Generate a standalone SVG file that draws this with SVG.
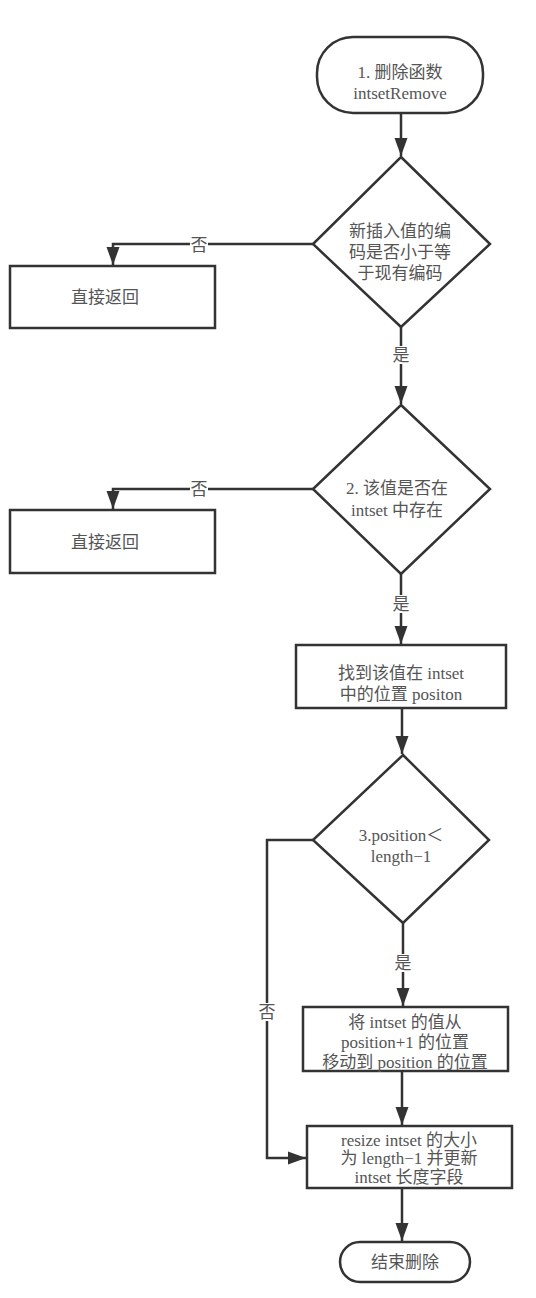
<svg xmlns="http://www.w3.org/2000/svg" width="536" height="1298" viewBox="0 0 536 1298">
<defs>
<style>
.shape{fill:#fff;stroke:#333;stroke-width:2.5}
.conn{fill:none;stroke:#333;stroke-width:2.5}
.t{font-family:"Liberation Serif","Noto Sans CJK SC",serif;font-size:17px;fill:#555;text-anchor:middle}
.lbl{font-family:"Liberation Serif","Noto Sans CJK SC",serif;font-size:17px;fill:#555;text-anchor:middle;dominant-baseline:central}
.bg{fill:#fff}
</style>
<marker id="arr" markerUnits="userSpaceOnUse" markerWidth="20" markerHeight="14" refX="18" refY="7" orient="auto">
<path d="M0,0.5 L18,7 L0,13.5 z" fill="#333"/>
</marker>
</defs>
<rect width="536" height="1298" fill="#fff"/>
<g id="connectors">
<path class="conn" d="M401,113 V156" marker-end="url(#arr)"/>
<path class="conn" d="M313,244 H113 V265" marker-end="url(#arr)"/>
<path class="conn" d="M401,327 V404" marker-end="url(#arr)"/>
<path class="conn" d="M313,489 H113 V509" marker-end="url(#arr)"/>
<path class="conn" d="M401,574 V644" marker-end="url(#arr)"/>
<path class="conn" d="M402,708 V754" marker-end="url(#arr)"/>
<path class="conn" d="M403,923 V1006" marker-end="url(#arr)"/>
<path class="conn" d="M313,840 H267 V1158 H306" marker-end="url(#arr)"/>
<path class="conn" d="M402,1071 V1125" marker-end="url(#arr)"/>
<path class="conn" d="M402,1188 V1241" marker-end="url(#arr)"/>
<rect class="bg" x="190" y="236" width="18" height="18"/>
<text class="lbl" x="199" y="245">否</text>
<rect class="bg" x="190" y="480" width="18" height="18"/>
<text class="lbl" x="199" y="489">否</text>
<rect class="bg" x="392" y="346" width="18" height="18"/>
<text class="lbl" x="401" y="355">是</text>
<rect class="bg" x="392" y="595" width="18" height="18"/>
<text class="lbl" x="401" y="604">是</text>
<rect class="bg" x="394" y="954" width="18" height="18"/>
<text class="lbl" x="403" y="963">是</text>
<rect class="bg" x="258" y="1003" width="18" height="18"/>
<text class="lbl" x="267" y="1012">否</text>
</g>
<g id="start">
<rect class="shape" x="317" y="37" width="166" height="76" rx="36" ry="36"/>
<text class="t" x="400" y="78">1. 删除函数</text>
<text class="t" x="400" y="99">intsetRemove</text>
</g>
<g id="decision1">
<polygon class="shape" points="401,157 490,244 401,327 313,244"/>
<text class="t" x="400" y="237">新插入值的编</text>
<text class="t" x="400" y="258">码是否小于等</text>
<text class="t" x="400" y="279">于现有编码</text>
</g>
<g id="return1">
<rect class="shape" x="10" y="266" width="205" height="62"/>
<text class="t" x="105" y="303">直接返回</text>
</g>
<g id="decision2">
<polygon class="shape" points="401,405 490,489 401,574 313,489"/>
<text class="t" x="397" y="494">2. 该值是否在</text>
<text class="t" x="397" y="516">intset 中存在</text>
</g>
<g id="return2">
<rect class="shape" x="10" y="510" width="205" height="63"/>
<text class="t" x="105" y="548">直接返回</text>
</g>
<g id="find">
<rect class="shape" x="296" y="645" width="210" height="63"/>
<text class="t" x="401" y="679">找到该值在 intset</text>
<text class="t" x="401" y="700">中的位置 positon</text>
</g>
<g id="decision3">
<polygon class="shape" points="403,755 489,840 403,923 313,840"/>
<text class="t" x="401" y="841">3.position＜</text>
<text class="t" x="401" y="862">length−1</text>
</g>
<g id="move">
<rect class="shape" x="303" y="1007" width="205" height="64"/>
<text class="t" x="405" y="1028">将 intset 的值从</text>
<text class="t" x="405" y="1048">position+1 的位置</text>
<text class="t" x="405" y="1068">移动到 position 的位置</text>
</g>
<g id="resize">
<rect class="shape" x="307" y="1126" width="205" height="62"/>
<text class="t" x="409" y="1146">resize intset 的大小</text>
<text class="t" x="409" y="1164">为 length−1 并更新</text>
<text class="t" x="409" y="1183">intset 长度字段</text>
</g>
<g id="end">
<rect class="shape" x="340" y="1242" width="130" height="40" rx="20" ry="20"/>
<text class="t" x="405" y="1268">结束删除</text>
</g>
</svg>
